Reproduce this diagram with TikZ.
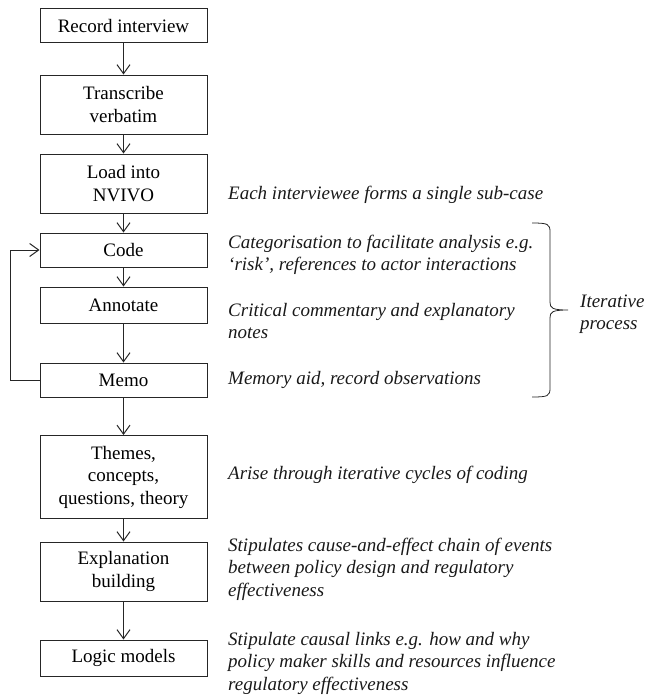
\documentclass[tikz,border=0pt]{standalone}
\usepackage{fontspec}
\setmainfont{Liberation Serif}
\usepackage{tikz}
\usetikzlibrary{arrows.meta}
\newcommand{\flowfont}{\fontsize{19}{22.5}\selectfont}
\tikzset{proc/.style={draw=black!85, line width=1pt, minimum width=167pt, minimum height=34pt, align=center, inner sep=2pt, font=\flowfont}}
\tikzset{note/.style={anchor=west, align=left, inner sep=0pt, font=\flowfont\itshape, text=black!90}}
\tikzset{flow/.style={draw=black!85, line width=1pt, -{Straight Barb[length=9pt,width=13pt]}}}

\begin{document}
\begin{tikzpicture}[x=1pt,y=-1pt]
{
\useasboundingbox (0,0) rectangle (647,697);
% steps
\node[proc] (rec) at (123.5,25.5) {Record interview};
\node[proc, minimum height=59pt] (trans) at (123.5,104.5) {Transcribe\\verbatim};
\node[proc, minimum height=59pt] (load) at (123.5,183.5) {Load into\\NVIVO};
\node[proc] (code) at (123.5,250) {Code};
\node[proc, minimum height=36pt] (annot) at (123.5,305) {Annotate};
\node[proc] (memo) at (123.5,380) {Memo};
\node[proc, minimum height=83pt] (themes) at (123.5,477) {Themes,\\concepts,\\questions, theory};
\node[proc, minimum height=59pt] (expl) at (123.5,571.5) {Explanation\\building};
\node[proc, minimum height=36pt] (logic) at (123.5,658) {Logic models};
\draw[flow] (rec) -- (trans);
\draw[flow] (trans) -- (load);
\draw[flow] (load) -- (code);
\draw[flow] (code) -- (annot);
\draw[flow] (annot) -- (memo);
\draw[flow] (memo) -- (themes);
\draw[flow] (themes) -- (expl);
\draw[flow] (expl) -- (logic);
\draw[flow] (memo.west) -- ++(-29,0) |- (code.west);
% notes
\node[note] (nload) at (228,195) {Each interviewee forms a single sub-case};
\node[note] (ncode) at (228,255) {Categorisation to facilitate analysis e.g.\\‘risk’, references to actor interactions};
\node[note] (nannot) at (228,321) {Critical commentary and explanatory\\notes};
\node[note] (nmemo) at (228,380) {Memory aid, record observations};
\node[note] (nthemes) at (228,475) {Arise through iterative cycles of coding};
\node[note] (nexpl) at (228,569) {Stipulates cause-and-effect chain of events\\between policy design and regulatory\\effectiveness};
\node[note] (nlogic) at (228,663) {Stipulate causal links e.g. how and why\\policy maker skills and resources influence\\regulatory effectiveness};
% brace
\draw[black!85, line width=0.8pt] (532,223) .. controls (548,223) and (550,224) .. (550,232) -- (550,302)
  .. controls (550,308) and (552,310) .. (568,310)
  .. controls (552,310) and (550,312) .. (550,318) -- (550,388)
  .. controls (550,396) and (548,397) .. (532,397);
\node[note] (iter) at (580,314) {Iterative\\process};
}
\end{tikzpicture}
\end{document}
